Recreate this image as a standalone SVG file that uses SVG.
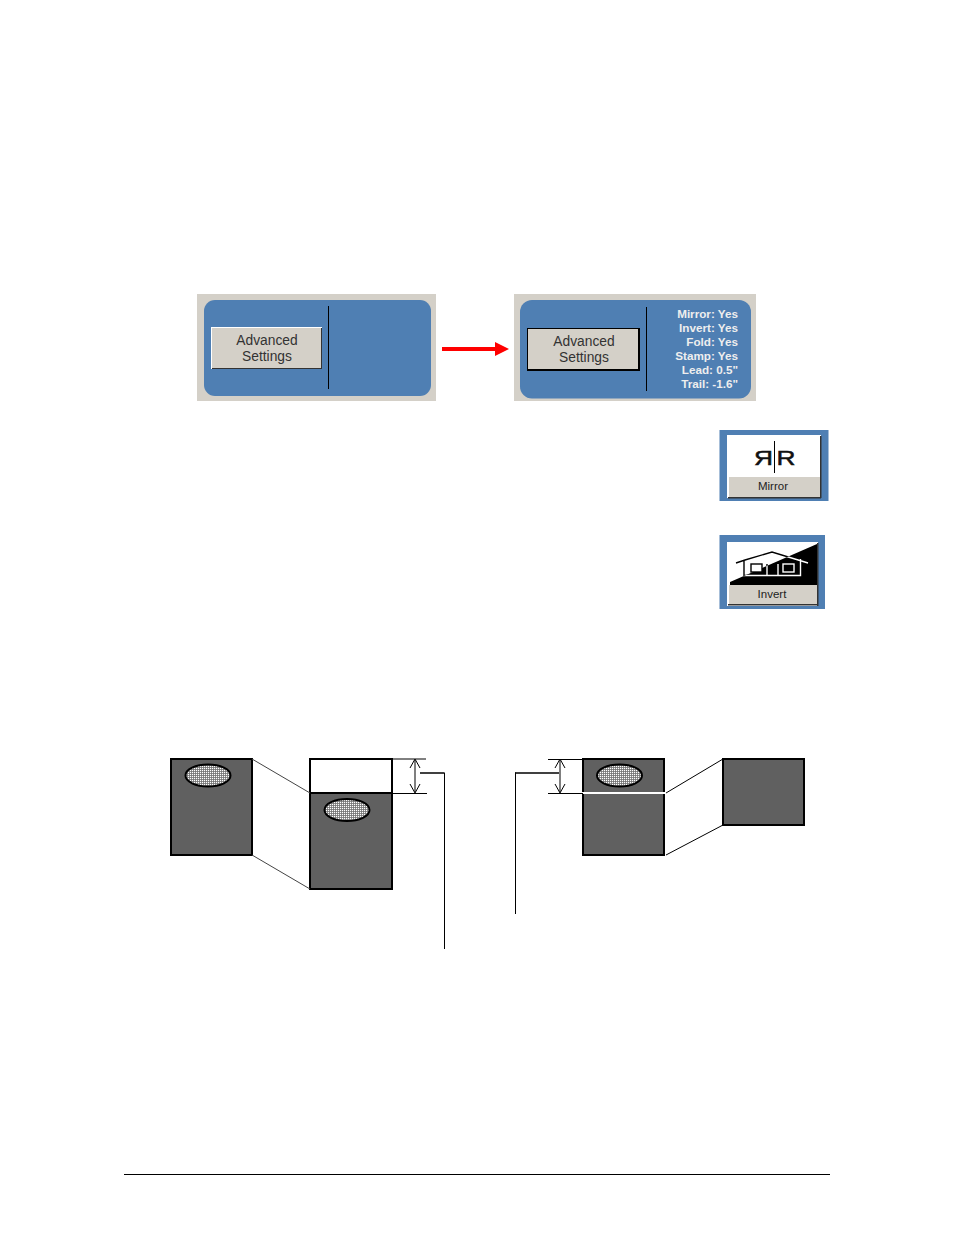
<svg xmlns="http://www.w3.org/2000/svg" width="954" height="1235" viewBox="0 0 954 1235">
<style>
text{font-family:"Liberation Sans",Arial,sans-serif}
.bg{fill:#d4d0c8}.blue{fill:#4f7fb3}
.btn{font-size:13.800px;fill:#333;text-anchor:middle}
.st{font-size:11.700px;font-weight:bold;fill:#eee;text-anchor:end}
.cap{font-size:11.500px;fill:#222;text-anchor:middle}
.box{fill:#606060;stroke:#000;stroke-width:2}
.ell{fill:url(#dots);stroke:#000;stroke-width:2}
.thin{stroke:#000;stroke-width:1;fill:none}
.med{stroke:#000;stroke-width:1.500;fill:none}
.rr{font-size:21px;fill:#111;stroke:#111;stroke-width:.5px}
</style>
<defs>
<pattern id="dots" width="2" height="2" patternUnits="userSpaceOnUse"><rect width="2" height="2" fill="#707070"/><rect width="1.200" height="1.200" fill="#fff"/></pattern>
<clipPath id="dark"><polygon points="730,582 817,544 817,585 730,585"/></clipPath>
<path id="house" d="M736,563L745,560L772,552L808,563M744,560V575.500H800.500V559M767,564V575M778,564V575"/>
</defs>
<g id="panel-before">
<rect class="bg" x="197" y="294" width="239" height="107"/>
<rect class="blue" x="204" y="300" width="227" height="96" rx="11"/>
<rect x="211" y="327" width="111" height="42" fill="#fff"/>
<rect x="212" y="328" width="110" height="41" fill="#333"/>
<rect x="212" y="328" width="109" height="40" fill="#d4d0c8"/>
<text class="btn" x="267" y="345">Advanced</text>
<text class="btn" x="267" y="361">Settings</text>
<rect x="328" y="306" width="1" height="83" fill="#000"/>
</g>
<g id="panel-after">
<rect class="bg" x="514" y="294" width="242" height="107"/>
<rect class="blue" x="520" y="300" width="231" height="98.500" rx="12"/>
<rect x="527" y="328" width="113" height="43" fill="#000"/>
<rect x="528" y="329" width="110" height="40" fill="#d4d0c8"/>
<text class="btn" x="584" y="346">Advanced</text>
<text class="btn" x="584" y="362">Settings</text>
<rect x="646" y="307" width="1" height="84" fill="#000"/>
<text class="st" x="738" y="318">Mirror: Yes</text>
<text class="st" x="738" y="332">Invert: Yes</text>
<text class="st" x="738" y="346">Fold: Yes</text>
<text class="st" x="738" y="360">Stamp: Yes</text>
<text class="st" x="738" y="374">Lead: 0.5"</text>
<text class="st" x="738" y="388">Trail: -1.6"</text>
</g>
<g id="mirror-icon">
<rect class="blue" x="719.500" y="430" width="109" height="71"/>
<rect x="727" y="435" width="94" height="63" fill="#fff"/>
<rect x="729" y="477" width="91" height="20" fill="#d4d0c8"/>
<rect x="820" y="436" width="1.500" height="62" fill="#333"/>
<rect x="728" y="497" width="93" height="1.500" fill="#333"/>
<text class="rr" transform="translate(773 465) scale(-1.250 1)">R</text>
<text class="rr" transform="translate(776.500 465) scale(1.250 1)">R</text>
<rect x="774" y="441" width="1" height="32" fill="#000"/>
<text class="cap" x="773" y="490">Mirror</text>
</g>
<g id="invert-icon">
<rect class="blue" x="719.500" y="535" width="105.500" height="74"/>
<rect x="727" y="542" width="91" height="64" fill="#fff"/>
<polygon points="730,582 817,544 817,585 730,585" fill="#000"/>
<rect x="729" y="585" width="88" height="19" fill="#d4d0c8"/>
<rect x="817" y="543" width="1.500" height="63" fill="#333"/>
<rect x="728" y="604" width="90" height="1.500" fill="#333"/>
<use href="#house" fill="none" stroke="#000" stroke-width="1.400"/>
<rect x="751" y="564" width="11" height="8" fill="#fff" stroke="#000" stroke-width="1.400"/>
<g clip-path="url(#dark)">
<use href="#house" fill="none" stroke="#fff" stroke-width="1.400"/>
<rect x="783" y="564" width="11" height="8" fill="none" stroke="#fff" stroke-width="1.400"/>
</g>
<text class="cap" x="772" y="598">Invert</text>
</g>
<g id="arrow-red">
<rect x="442" y="347" width="54" height="4" fill="#f00"/>
<polygon points="495,342 509,349 495,356" fill="#f00"/>
</g>
<g id="lead-original">
<rect class="box" x="171" y="759" width="81" height="96"/>
<ellipse class="ell" cx="208" cy="775.500" rx="22.500" ry="11"/>
</g>
<g id="lead-result">
<rect x="310" y="759" width="82" height="34" fill="#fff" stroke="#000" stroke-width="2"/>
<rect class="box" x="310" y="793" width="82" height="96"/>
<ellipse class="ell" cx="347" cy="810" rx="22.500" ry="11"/>
</g>
<g id="trail-original">
<rect class="box" x="583" y="759" width="81" height="96"/>
<ellipse class="ell" cx="619.500" cy="775.500" rx="22.500" ry="11"/>
<rect x="582" y="792" width="83" height="2" fill="#fff"/>
</g>
<g id="trail-result">
<rect class="box" x="723" y="759" width="81" height="66"/>
</g>
<g id="connectors">
<path d="M252,759L310,793M252,855L310,889" stroke="#444" stroke-width="1" fill="none"/>
<path class="thin" d="M666,793L723,759M666,855L723,825"/>
<path class="thin" d="M392,759H426M392,793.500H427"/>
<path d="M415,760V792" stroke="#555" stroke-width="1.500" fill="none"/>
<path class="thin" d="M410,768L415,759L420,768M410,784L415,793L420,784"/>
<path class="med" d="M420,773H444"/><path class="thin" d="M444.500,772.500V949"/>
<path class="thin" d="M548,759.500H583M548,793.500H583"/>
<path d="M560,760V792" stroke="#555" stroke-width="1.500" fill="none"/>
<path class="thin" d="M555,768L560,759L565,768M555,784L560,793L565,784"/>
<path class="med" d="M515,773H559"/><path class="thin" d="M515.500,772.500V914"/>
</g>
<g id="footer-rule"><path class="thin" d="M124,1174.500H830"/></g>
</svg>
